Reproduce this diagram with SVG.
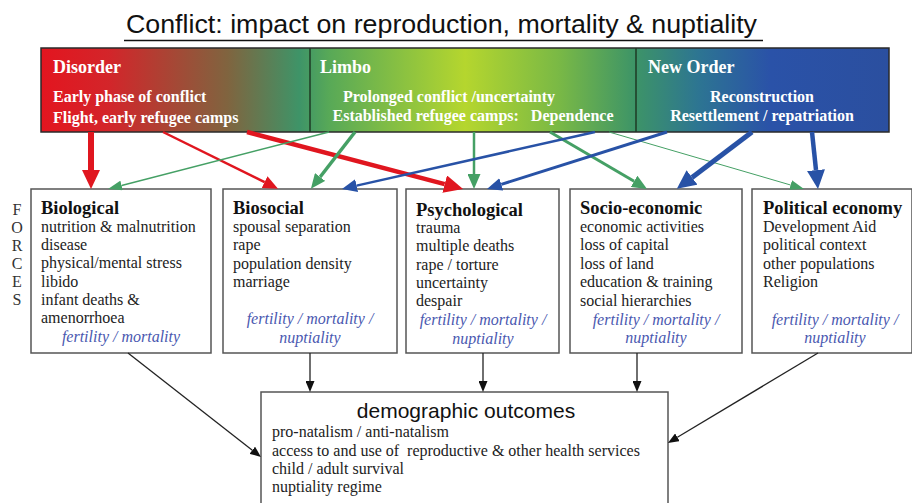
<svg xmlns="http://www.w3.org/2000/svg" width="912" height="503" viewBox="0 0 912 503">
  <style>
    .title { font-family: "Liberation Sans", Arial, sans-serif; font-size: 26.5px; fill: #111; }
    .phase-h { font-family: "Liberation Serif", "Times New Roman", serif; font-weight: bold; font-size: 18px; fill: #fff; }
    .phase { font-family: "Liberation Serif", "Times New Roman", serif; font-weight: bold; font-size: 16px; fill: #fff; }
    .box { fill: #fff; stroke: #555; stroke-width: 1.5; }
    .box-h { font-family: "Liberation Serif", "Times New Roman", serif; font-weight: bold; font-size: 18.5px; fill: #111; }
    .item { font-family: "Liberation Serif", "Times New Roman", serif; font-size: 16px; fill: #222; }
    .effect { font-family: "Liberation Serif", "Times New Roman", serif; font-style: italic; font-size: 16px; fill: #4a58b0; text-anchor: middle; }
    .forces { font-family: "Liberation Serif", "Times New Roman", serif; font-size: 16px; fill: #333; text-anchor: middle; }
    .out-h { font-family: "Liberation Sans", Arial, sans-serif; font-size: 21px; fill: #111; text-anchor: middle; }
    .red { stroke: #e0161f; fill: none; }
    .green { stroke: #45a065; fill: none; }
    .blue { stroke: #2852a6; fill: none; }
    .black { stroke: #222; fill: none; stroke-width: 1.3; }
  </style>
  <defs>
    <linearGradient id="phaseGrad" x1="41" y1="0" x2="889" y2="0" gradientUnits="userSpaceOnUse">
      <stop offset="0" stop-color="#e3151f"/>
      <stop offset="0.08" stop-color="#d3252a"/>
      <stop offset="0.22" stop-color="#80643f"/>
      <stop offset="0.305" stop-color="#3e9468"/>
      <stop offset="0.34" stop-color="#58a957"/>
      <stop offset="0.50" stop-color="#b5d62e"/>
      <stop offset="0.61" stop-color="#7ab945"/>
      <stop offset="0.70" stop-color="#3d9467"/>
      <stop offset="0.775" stop-color="#2d7592"/>
      <stop offset="0.86" stop-color="#2a52a8"/>
      <stop offset="1" stop-color="#2b4f9f"/>
    </linearGradient>
    <marker id="redL" viewBox="0 0 19 18" refX="0" refY="9" markerWidth="19" markerHeight="18" markerUnits="userSpaceOnUse" orient="auto"><path d="M0,0 L19,9 L0,18 Z" fill="#e0161f"/></marker>
    <marker id="redM" viewBox="0 0 15 13" refX="0" refY="6.5" markerWidth="15" markerHeight="13" markerUnits="userSpaceOnUse" orient="auto"><path d="M0,0 L15,6.5 L0,13 Z" fill="#e0161f"/></marker>
    <marker id="greenM" viewBox="0 0 15 13" refX="0" refY="6.5" markerWidth="15" markerHeight="13" markerUnits="userSpaceOnUse" orient="auto"><path d="M0,0 L15,6.5 L0,13 Z" fill="#45a065"/></marker>
    <marker id="greenS" viewBox="0 0 14 10" refX="0" refY="5" markerWidth="14" markerHeight="10" markerUnits="userSpaceOnUse" orient="auto"><path d="M0,0 L14,5 L0,10 Z" fill="#45a065"/></marker>
    <marker id="blueM" viewBox="0 0 15 13" refX="0" refY="6.5" markerWidth="15" markerHeight="13" markerUnits="userSpaceOnUse" orient="auto"><path d="M0,0 L15,6.5 L0,13 Z" fill="#2852a6"/></marker>
    <marker id="blueL" viewBox="0 0 19 18" refX="0" refY="9" markerWidth="19" markerHeight="18" markerUnits="userSpaceOnUse" orient="auto"><path d="M0,0 L19,9 L0,18 Z" fill="#2852a6"/></marker>
    <marker id="blk" viewBox="0 0 11 9" refX="0" refY="4.5" markerWidth="11" markerHeight="9" markerUnits="userSpaceOnUse" orient="auto"><path d="M0,0 L11,4.5 L0,9 Z" fill="#111"/></marker>
  </defs>

  <rect width="912" height="503" fill="#fff"/>

  <!-- Heading -->
  <g id="title">
    <text class="title" x="126" y="33" textLength="631" lengthAdjust="spacingAndGlyphs">Conflict: impact on reproduction, mortality &amp; nuptiality</text>
    <line x1="124" y1="40.5" x2="763" y2="40.5" stroke="#111" stroke-width="1.5"/>
  </g>

  <!-- Phases of conflict band -->
  <g id="phases">
    <rect x="41" y="48" width="848" height="84" fill="url(#phaseGrad)" stroke="#2a2a2a" stroke-width="1.5"/>
    <line x1="310" y1="48" x2="310" y2="132" stroke="#1e3a24" stroke-width="1.5"/>
    <line x1="636" y1="48" x2="636" y2="132" stroke="#1e3a24" stroke-width="1.5"/>
  </g>
  <g id="disorder">
    <text class="phase-h" x="53" y="73">Disorder</text>
    <text class="phase" x="53" y="102">Early phase of conflict</text>
    <text class="phase" x="53" y="123">Flight, early refugee camps</text>
  </g>
  <g id="limbo">
    <text class="phase-h" x="320" y="73">Limbo</text>
    <text class="phase" x="449" y="102" text-anchor="middle">Prolonged conflict /uncertainty</text>
    <text class="phase" x="473" y="121" text-anchor="middle" xml:space="preserve">Established refugee camps:   Dependence</text>
  </g>
  <g id="new-order">
    <text class="phase-h" x="648" y="73">New Order</text>
    <text class="phase" x="762" y="102" text-anchor="middle">Reconstruction</text>
    <text class="phase" x="762" y="121" text-anchor="middle">Resettlement / repatriation</text>
  </g>

  <!-- FORCES label -->
  <g id="forces-label">
    <text class="forces" x="17" y="215">F</text>
    <text class="forces" x="17" y="233">O</text>
    <text class="forces" x="17" y="251">R</text>
    <text class="forces" x="17" y="269">C</text>
    <text class="forces" x="17" y="287">E</text>
    <text class="forces" x="17" y="305">S</text>
  </g>

  <!-- Forces -->
  <g id="biological">
    <rect class="box" x="31" y="189" width="180" height="164"/>
    <text class="box-h" x="41" y="214">Biological</text>
    <text class="item" x="41" y="232">nutrition &amp; malnutrition</text>
    <text class="item" x="41" y="250">disease</text>
    <text class="item" x="41" y="268">physical/mental stress</text>
    <text class="item" x="41" y="287">libido</text>
    <text class="item" x="41" y="305">infant deaths &amp;</text>
    <text class="item" x="41" y="323">amenorrhoea</text>
    <text class="effect" x="121" y="342">fertility / mortality</text>
  </g>
  <g id="biosocial">
    <rect class="box" x="223" y="189" width="174" height="164"/>
    <text class="box-h" x="233" y="214">Biosocial</text>
    <text class="item" x="233" y="232">spousal separation</text>
    <text class="item" x="233" y="250">rape</text>
    <text class="item" x="233" y="269">population density</text>
    <text class="item" x="233" y="287">marriage</text>
    <text class="effect" x="310" y="324">fertility / mortality /</text>
    <text class="effect" x="310" y="343">nuptiality</text>
  </g>
  <g id="psychological">
    <rect class="box" x="406" y="189" width="153" height="164"/>
    <text class="box-h" x="416" y="216">Psychological</text>
    <text class="item" x="416" y="233">trauma</text>
    <text class="item" x="416" y="251">multiple deaths</text>
    <text class="item" x="416" y="270">rape / torture</text>
    <text class="item" x="416" y="288">uncertainty</text>
    <text class="item" x="416" y="306">despair</text>
    <text class="effect" x="483" y="325">fertility / mortality /</text>
    <text class="effect" x="483" y="344">nuptiality</text>
  </g>
  <g id="socio-economic">
    <rect class="box" x="570" y="189" width="172" height="164"/>
    <text class="box-h" x="580" y="214">Socio-economic</text>
    <text class="item" x="580" y="232">economic activities</text>
    <text class="item" x="580" y="250">loss of capital</text>
    <text class="item" x="580" y="269">loss of land</text>
    <text class="item" x="580" y="287">education &amp; training</text>
    <text class="item" x="580" y="306">social hierarchies</text>
    <text class="effect" x="656" y="325">fertility / mortality /</text>
    <text class="effect" x="656" y="343">nuptiality</text>
  </g>
  <g id="political-economy">
    <rect class="box" x="752" y="189" width="160" height="164"/>
    <text class="box-h" x="763" y="214">Political economy</text>
    <text class="item" x="763" y="232">Development Aid</text>
    <text class="item" x="763" y="250">political context</text>
    <text class="item" x="763" y="269">other populations</text>
    <text class="item" x="763" y="287">Religion</text>
    <text class="effect" x="835" y="325">fertility / mortality /</text>
    <text class="effect" x="835" y="343">nuptiality</text>
  </g>

  <!-- Outcomes -->
  <g id="demographic-outcomes">
    <rect class="box" x="261" y="392" width="407" height="125"/>
    <text class="out-h" x="466" y="418">demographic outcomes</text>
    <text class="item" x="272" y="437">pro-natalism / anti-natalism</text>
    <text class="item" x="272" y="456" xml:space="preserve">access to and use of  reproductive &amp; other health services</text>
    <text class="item" x="272" y="474">child / adult survival</text>
    <text class="item" x="272" y="492">nuptiality regime</text>
  </g>

  <!-- Connectors -->
  <g id="connectors">
    <!-- Disorder -->
    <line class="red" x1="91" y1="132" x2="91" y2="170" stroke-width="6" marker-end="url(#redL)"/>
    <line class="red" x1="163" y1="132" x2="264.6" y2="182.2" stroke-width="2.5" marker-end="url(#redM)"/>
    <line class="red" x1="247" y1="132" x2="444.7" y2="184.1" stroke-width="4.5" marker-end="url(#redL)"/>
    <!-- Limbo -->
    <line class="green" x1="329" y1="132" x2="121.6" y2="185.5" stroke-width="1.5" marker-end="url(#greenS)"/>
    <line class="green" x1="355" y1="132" x2="320.1" y2="177" stroke-width="3.5" marker-end="url(#greenM)"/>
    <line class="green" x1="474" y1="132" x2="474" y2="174" stroke-width="2.5" marker-end="url(#greenM)"/>
    <line class="green" x1="550" y1="132" x2="634.1" y2="181.3" stroke-width="3" marker-end="url(#greenM)"/>
    <line class="green" x1="609" y1="132" x2="790.6" y2="185" stroke-width="1" marker-end="url(#greenS)"/>
    <!-- New Order -->
    <line class="blue" x1="595" y1="132" x2="356.6" y2="185.6" stroke-width="2.5" marker-end="url(#blueM)"/>
    <line class="blue" x1="667" y1="132" x2="501.3" y2="184.4" stroke-width="3" marker-end="url(#blueM)"/>
    <line class="blue" x1="752" y1="132" x2="692" y2="177.4" stroke-width="5" marker-end="url(#blueL)"/>
    <line class="blue" x1="812" y1="132" x2="816" y2="170.1" stroke-width="4.5" marker-end="url(#blueL)"/>
    <!-- Forces to outcomes -->
    <line class="black" x1="128" y1="353" x2="252.3" y2="450.2" marker-end="url(#blk)"/>
    <line class="black" x1="310" y1="353" x2="310" y2="381" marker-end="url(#blk)"/>
    <line class="black" x1="483" y1="353" x2="483" y2="381" marker-end="url(#blk)"/>
    <line class="black" x1="637" y1="353" x2="637" y2="381" marker-end="url(#blk)"/>
    <line class="black" x1="818" y1="353" x2="677.4" y2="437.3" marker-end="url(#blk)"/>
  </g>
</svg>
